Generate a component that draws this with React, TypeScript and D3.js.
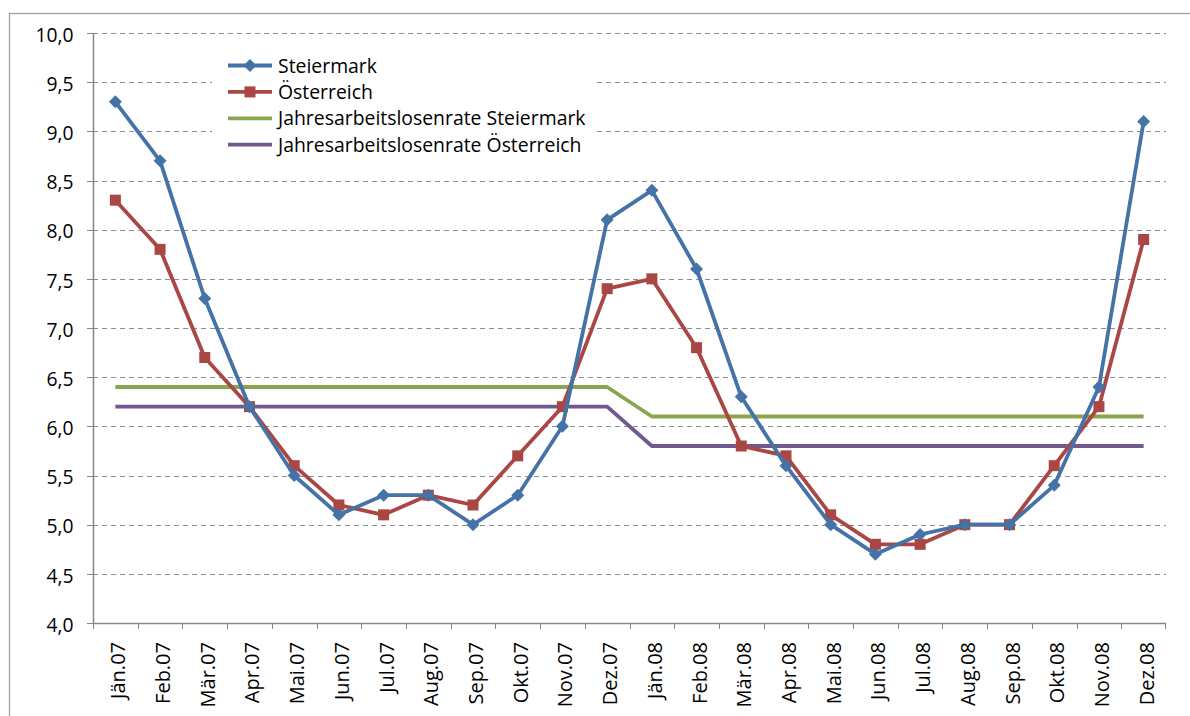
import React from "react";
import * as d3 from "d3";

const months = [
  "Jän.07", "Feb.07", "Mär.07", "Apr.07", "Mai.07", "Jun.07", "Jul.07", "Aug.07", "Sep.07", "Okt.07", "Nov.07", "Dez.07",
  "Jän.08", "Feb.08", "Mär.08", "Apr.08", "Mai.08", "Jun.08", "Jul.08", "Aug.08", "Sep.08", "Okt.08", "Nov.08", "Dez.08",
];
const steiermark = [9.3, 8.7, 7.3, 6.2, 5.5, 5.1, 5.3, 5.3, 5.0, 5.3, 6.0, 8.1, 8.4, 7.6, 6.3, 5.6, 5.0, 4.7, 4.9, 5.0, 5.0, 5.4, 6.4, 9.1];
const oesterreich = [8.3, 7.8, 6.7, 6.2, 5.6, 5.2, 5.1, 5.3, 5.2, 5.7, 6.2, 7.4, 7.5, 6.8, 5.8, 5.7, 5.1, 4.8, 4.8, 5.0, 5.0, 5.6, 6.2, 7.9];
const jahresSteiermark = [6.4, 6.4, 6.4, 6.4, 6.4, 6.4, 6.4, 6.4, 6.4, 6.4, 6.4, 6.4, 6.1, 6.1, 6.1, 6.1, 6.1, 6.1, 6.1, 6.1, 6.1, 6.1, 6.1, 6.1];
const jahresOesterreich = [6.2, 6.2, 6.2, 6.2, 6.2, 6.2, 6.2, 6.2, 6.2, 6.2, 6.2, 6.2, 5.8, 5.8, 5.8, 5.8, 5.8, 5.8, 5.8, 5.8, 5.8, 5.8, 5.8, 5.8];
const yTicks = [4.0, 4.5, 5.0, 5.5, 6.0, 6.5, 7.0, 7.5, 8.0, 8.5, 9.0, 9.5, 10.0];

const series = [
  { name: "Steiermark", values: steiermark, color: "#4572A7", marker: "diamond" },
  { name: "Österreich", values: oesterreich, color: "#AA4643", marker: "square" },
  { name: "Jahresarbeitslosenrate Steiermark", values: jahresSteiermark, color: "#89A54E", marker: "none" },
  { name: "Jahresarbeitslosenrate Österreich", values: jahresOesterreich, color: "#71588F", marker: "none" },
];

const W = 1190, H = 716;
const left = 93, right = 1166, top = 33, bottom = 623;
const FONT = "'Open Sans', sans-serif";

export default function App() {
  const x = d3.scaleBand<string>().domain(months).range([left, right]);
  const y = d3.scaleLinear().domain([4, 10]).range([bottom, top]);
  const cx = (i: number) => (x(months[i]) as number) + x.bandwidth() / 2;
  const line = d3.line<number>().x((_, i) => cx(i)).y((v) => y(v));
  const fmt = (v: number) => v.toFixed(1).replace(".", ",");

  const marker = (type: string, px: number, py: number, color: string, key: any) => {
    if (type === "diamond") {
      const r = 6.5;
      return <path key={key} d={`M${px},${py - r}L${px + r},${py}L${px},${py + r}L${px - r},${py}Z`} fill={color} />;
    }
    if (type === "square") {
      const s = 11;
      return <rect key={key} x={px - s / 2} y={py - s / 2} width={s} height={s} fill={color} />;
    }
    return null;
  };

  const lgX = 228, lgY = 65.5, lgStep = 26.4;

  return (
    <svg width={W} height={H} style={{ position: "absolute", left: 0, top: 0, background: "#fff" }} fontFamily={FONT}>
      <rect x={0} y={0} width={W} height={H} fill="#fff" />
      <rect x={9.5} y={13.5} width={W + 20} height={H + 20} fill="none" stroke="#a0a0a0" strokeWidth={1.3} />
      {/* gridlines */}
      {yTicks.slice(1).map((t) => (
        <line key={t} x1={left} x2={right} y1={Math.round(y(t)) + 0.5} y2={Math.round(y(t)) + 0.5} stroke="#8c8c8c" strokeWidth={1} strokeDasharray="5,4" />
      ))}
      {/* y axis */}
      <line x1={left + 0.5} x2={left + 0.5} y1={top} y2={bottom} stroke="#868686" strokeWidth={1.5} />
      {yTicks.map((t) => (
        <g key={"yt" + t}>
          <line x1={left - 6} x2={left} y1={Math.round(y(t)) + 0.5} y2={Math.round(y(t)) + 0.5} stroke="#868686" strokeWidth={1} />
          <text x={73.5} y={y(t) + 8.8} textAnchor="end" fontSize={19.3} fill="#000">{fmt(t)}</text>
        </g>
      ))}
      {/* x axis */}
      <line x1={left} x2={right} y1={bottom + 0.5} y2={bottom + 0.5} stroke="#868686" strokeWidth={1.5} />
      {months.map((m) => (
        <line key={"xt" + m} x1={Math.round(x(m) as number) + 0.5} x2={Math.round(x(m) as number) + 0.5} y1={bottom} y2={bottom + 6} stroke="#868686" strokeWidth={1} />
      ))}
      <line x1={right - 0.5} x2={right - 0.5} y1={bottom} y2={bottom + 6} stroke="#868686" strokeWidth={1} />
      {months.map((m, i) => (
        <text key={"xl" + m} transform={`translate(${cx(i) + 10},${642}) rotate(-90)`} textAnchor="end" fontSize={20} fill="#000">{m}</text>
      ))}
      {/* series */}
      {series.slice().reverse().map((s) => (
        <g key={s.name}>
          <path d={line(s.values) as string} fill="none" stroke={s.color} strokeWidth={3.8} strokeLinejoin="round" />
          {s.values.map((v, i) => marker(s.marker, cx(i), y(v), s.color, i))}
        </g>
      ))}
      {/* legend */}
      <rect x={212} y={42} width={382} height={124} fill="#fff" />
      {series.map((s, i) => (
        <g key={"lg" + s.name}>
          <line x1={lgX} x2={lgX + 44} y1={lgY + i * lgStep} y2={lgY + i * lgStep} stroke={s.color} strokeWidth={3.8} />
          {marker(s.marker, lgX + 22, lgY + i * lgStep, s.color, "m")}
          <text x={278} y={lgY + i * lgStep + 7} fontSize={19.4} fill="#000">{s.name}</text>
        </g>
      ))}
    </svg>
  );
}
